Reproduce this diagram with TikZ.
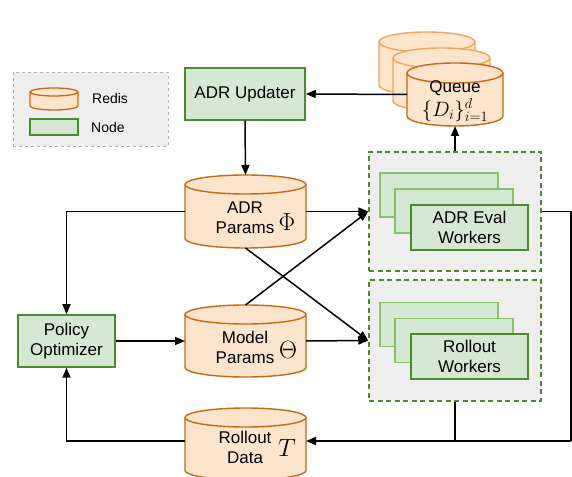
\documentclass[tikz,border=0pt]{standalone}
\usepackage{fontspec}
\setmainfont{Liberation Sans}
\usetikzlibrary{arrows.meta}

\definecolor{redisfill}{HTML}{FDE4CC}
\definecolor{redisline}{HTML}{C46A14}
\definecolor{redislight}{HTML}{EFA65C}
\definecolor{nodefill}{HTML}{D5E8D4}
\definecolor{nodeline}{HTML}{4B8B2E}
\definecolor{nodelight}{HTML}{88C06C}
\definecolor{groupfill}{HTML}{EEEEEE}

% cylinder: #1 style, #2 centre x, #3 top y, #4 width, #5 height, #6 ellipse radius
\newcommand{\rediscyl}[6]{%
  \filldraw[#1] ({#2-#4/2},{#3-#6}) -- ({#2-#4/2},{#3-#5+#6})
    arc[start angle=180,end angle=360,x radius={#4/2},y radius=#6]
    -- ({#2+#4/2},{#3-#6})
    arc[start angle=0,end angle=180,x radius={#4/2},y radius=#6] -- cycle;
  \draw[#1,fill=none] ({#2-#4/2},{#3-#6})
    arc[start angle=180,end angle=360,x radius={#4/2},y radius=#6];
}

\tikzset{
  txt/.style={font=\fontsize{17}{20}\selectfont, align=center, inner sep=0pt},
  small/.style={font=\fontsize{14}{16}\selectfont, inner sep=0pt},
  sym/.style={font=\fontsize{25}{25}\selectfont, inner sep=0pt},
  holder/.style={inner sep=0pt, outer sep=0pt},
  redis/.style={line width=1.4pt, draw=redisline, fill=redisfill},
  redisback/.style={line width=1.4pt, draw=redislight, fill=redisfill},
  greenbox/.style={draw=nodeline, fill=nodefill, line width=1.5pt, inner sep=0pt},
  greenback/.style={draw=nodelight, fill=nodefill, line width=1.5pt, inner sep=0pt,
    minimum width=118pt, minimum height=44pt},
  group/.style={draw=nodeline, fill=groupfill, line width=1.5pt,
    dash pattern=on 5pt off 3.5pt, inner sep=0pt},
  wire/.style={line width=1.5pt},
  conn/.style={line width=1.5pt, -{Triangle[length=10pt,width=8pt]}},
}

\begin{document}
\begin{tikzpicture}[x=1pt,y=1pt]
\useasboundingbox (0,0) rectangle (572,476);
\fill[white] (0,0) rectangle (572,476);
\clip (0,0) rectangle (572,476);

% legend
\node[draw=black!30, fill=groupfill, dashed, line width=0.8pt,
      minimum width=155pt, minimum height=74pt, holder] (legend) at (90.5,367) {};
\rediscyl{line width=1.3pt, draw=redisline, fill=redisfill}{54}{388}{48}{22}{4}
\node[holder, minimum width=48pt, minimum height=22pt] (legcyl) at (54,377) {};
\node[small, anchor=west] (legredis) at (92,377) {Redis};
\node[greenbox, line width=1.3pt, minimum width=48pt, minimum height=16pt] (legnode) at (54,349) {};
\node[small, anchor=west] (legnodetxt) at (91,348) {Node};

% ADR updater
\node[greenbox, minimum width=120pt, minimum height=52pt, txt] (upd) at (245,382) {ADR Updater};

% queue of datasets
\rediscyl{redisback}{427}{444}{96}{63}{10}
\rediscyl{redisback}{441.5}{428}{97}{63}{10}
\node[holder, minimum width=96pt, minimum height=63pt] (queue) at (455,381.5) {};
\draw[wire] (queue.west) -- ++(-40,0);
\rediscyl{redis}{455}{413}{96}{63}{10}
\node[txt] (queuetxt) at (455,388) {Queue};
\node[inner sep=0pt, font=\fontsize{20}{20}\selectfont] (queuemath) at (455,366) {$\{D_i\}_{i=1}^{d}$};

% parameter stores
\rediscyl{redis}{245.5}{301}{121}{73}{9.5}
\node[holder, minimum width=121pt, minimum height=73pt] (adrp) at (245.5,264.5) {};
\node[txt] (adrptxt) at (245,258) {ADR\\Params};
\node[sym] (phi) at (287,254) {$\Phi$};

\rediscyl{redis}{245.5}{171}{121}{72}{9.5}
\node[holder, minimum width=121pt, minimum height=72pt] (modp) at (245.5,135) {};
\node[txt] (modptxt) at (245,129) {Model\\Params};
\node[sym] (theta) at (288,126) {$\Theta$};

\rediscyl{redis}{245.5}{68}{121}{72}{9.5}
\node[holder, minimum width=121pt, minimum height=72pt] (rdata) at (245.5,32) {};
\node[txt] (rdatatxt) at (245,29) {Rollout\\Data};
\node[sym] (tsym) at (287,28) {$T$};

% policy optimizer
\node[greenbox, minimum width=97pt, minimum height=52pt, txt] (pol) at (66.5,135) {Policy\\Optimizer};

% ADR evaluation workers
\node[group, minimum width=172pt, minimum height=119pt] (evalgrp) at (455,264.5) {};
\node[greenback] (ev1) at (439,281) {};
\node[greenback] (ev2) at (454,265) {};
\node[greenbox, minimum width=117pt, minimum height=45pt, txt] (ev3) at (469.5,248.5) {ADR Eval\\Workers};

% rollout workers
\node[group, minimum width=172pt, minimum height=121pt] (rolgrp) at (455,135.5) {};
\node[greenback] (ro1) at (439,151.5) {};
\node[greenback] (ro2) at (454,135.5) {};
\node[greenbox, minimum width=117pt, minimum height=45pt, txt] (ro3) at (469.5,119.5) {Rollout\\Workers};

% connectors
\draw[conn] (queue.west) -- (upd.east);
\draw[conn] (evalgrp.north) -- (queue.south);
\draw[conn] (upd.south) -- (adrp.north);
\draw[conn] (adrp.west) -| (pol.north);
\draw[conn] (pol.east) -- (modp.west);
\draw[conn] ([yshift=3pt]rdata.west) -| (pol.south);
\draw[conn] (adrp.east) -- (evalgrp.west);
\draw[conn] (modp.east) -- (rolgrp.west);
\draw[conn] (adrp.south) -- (rolgrp.west);
\draw[conn] (modp.north) -- (evalgrp.west);

\coordinate (rcorner) at (571,35);
\draw[wire] (evalgrp.east) -| (rcorner);
\draw[conn] (rcorner) -- ([yshift=3pt]rdata.east);
\draw[wire] (rolgrp.south) -- (rolgrp.south |- rcorner);
\end{tikzpicture}
\end{document}
